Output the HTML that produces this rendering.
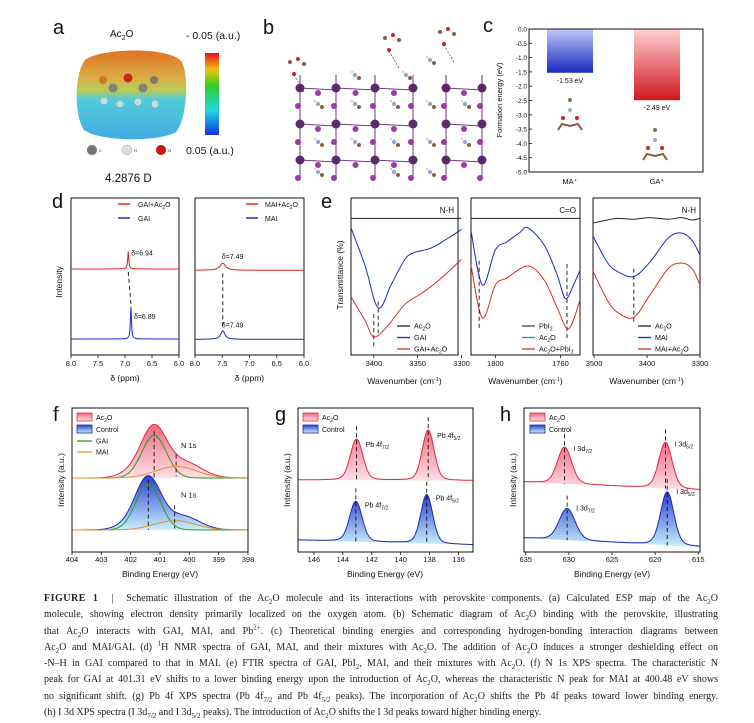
<!DOCTYPE html>
<html><head><meta charset="utf-8"><style>
body{margin:0;background:#fff;width:754px;height:723px;overflow:hidden;position:relative;font-family:"Liberation Sans",sans-serif}
svg{position:absolute;left:0;top:0}
#cap{position:absolute;left:44px;top:591px;width:674px;font-family:"Liberation Serif",serif;font-size:10px;color:#222;line-height:16.3px}
#cap div{text-align:justify;text-align-last:justify;white-space:nowrap;height:16.3px}
#cap div.last{text-align-last:left}
#cap b{font-weight:bold;letter-spacing:0.5px}
#cap sub,#cap sup{line-height:0;font-size:7px}
</style></head><body>
<svg id="fig" width="754" height="723" viewBox="0 0 754 723">
<defs>
<linearGradient id="esp" x1="0" y1="0" x2="0" y2="1"><stop offset="0" stop-color="#e06a18"/><stop offset="0.3" stop-color="#d8a83a"/><stop offset="0.45" stop-color="#b8c850"/><stop offset="0.55" stop-color="#48c8d8"/><stop offset="1" stop-color="#3aa8e0"/></linearGradient>
<linearGradient id="rainbow" x1="0" y1="0" x2="0" y2="1"><stop offset="0" stop-color="#e8101a"/><stop offset="0.2" stop-color="#f0c010"/><stop offset="0.4" stop-color="#30d020"/><stop offset="0.7" stop-color="#20d8e0"/><stop offset="1" stop-color="#1030e8"/></linearGradient>
<linearGradient id="gBlueBar" x1="0" y1="0" x2="0" y2="1"><stop offset="0" stop-color="#c0c8f8"/><stop offset="1" stop-color="#1828c0"/></linearGradient>
<linearGradient id="gRedBar" x1="0" y1="0" x2="0" y2="1"><stop offset="0" stop-color="#ffd0d0"/><stop offset="1" stop-color="#d01820"/></linearGradient>
<linearGradient id="fillRed" x1="0" y1="0" x2="0" y2="1"><stop offset="0" stop-color="#ee6a80"/><stop offset="1" stop-color="#fde0e6"/></linearGradient>
<linearGradient id="fillBlue" x1="0" y1="0" x2="0" y2="1"><stop offset="0" stop-color="#2a40d0"/><stop offset="1" stop-color="#c8f0fc"/></linearGradient>
</defs>
<g id="root" font-family="Liberation Sans, sans-serif"></g>
</svg>
<div id="cap">
<div><b>FIGURE 1</b> &nbsp;| &nbsp;Schematic illustration of the Ac<sub>2</sub>O molecule and its interactions with perovskite components. (a) Calculated ESP map of the Ac<sub>2</sub>O</div>
<div>molecule, showing electron density primarily localized on the oxygen atom. (b) Schematic diagram of Ac<sub>2</sub>O binding with the perovskite, illustrating</div>
<div>that Ac<sub>2</sub>O interacts with GAI, MAI, and Pb<sup>2+</sup>. (c) Theoretical binding energies and corresponding hydrogen-bonding interaction diagrams between</div>
<div>Ac<sub>2</sub>O and MAI/GAI. (d) <sup>1</sup>H NMR spectra of GAI, MAI, and their mixtures with Ac<sub>2</sub>O. The addition of Ac<sub>2</sub>O induces a stronger deshielding effect on</div>
<div>-N–H in GAI compared to that in MAI. (e) FTIR spectra of GAI, PbI<sub>2</sub>, MAI, and their mixtures with Ac<sub>2</sub>O. (f) N 1s XPS spectra. The characteristic N</div>
<div>peak for GAI at 401.31 eV shifts to a lower binding energy upon the introduction of Ac<sub>2</sub>O, whereas the characteristic N peak for MAI at 400.48 eV shows</div>
<div>no significant shift. (g) Pb 4f XPS spectra (Pb 4f<sub>7/2</sub> and Pb 4f<sub>5/2</sub> peaks). The incorporation of Ac<sub>2</sub>O shifts the Pb 4f peaks toward lower binding energy.</div>
<div class="last">(h) I 3d XPS spectra (I 3d<sub>7/2</sub> and I 3d<sub>5/2</sub> peaks). The introduction of Ac<sub>2</sub>O shifts the I 3d peaks toward higher binding energy.</div>
</div>
<script>
// ===== data =====
const cCategories=["MA⁺","GA⁺"];
const cValues=[-1.53,-2.49];
const cTicks=[0,-0.5,-1,-1.5,-2,-2.5,-3,-3.5,-4,-4.5,-5];
const dTicks=[8.0,7.5,7.0,6.5,6.0];
const dLeftRed={base:5.48,pos:6.94,h:1.1,w:0.012};
const dLeftBlue={base:1.02,pos:6.89,h:2.05,w:0.012};
const dRightRed={base:5.4,pos:7.49,h:0.45,w:0.06};
const dRightBlue={base:1.0,pos:7.49,h:0.55,w:0.045};
const e1Wn=[3426,3410,3395,3380,3365,3355,3335,3315,3300];
const e1Blue=[81,57,30,45,60.5,65,68,74.5,80];
const e1RedWn=[3426,3410,3400,3385,3365,3345,3325,3300];
const e1Red=[37,22,11.5,18,32,39.5,48,61];
const e2Wn=[1815,1808,1800,1793,1785,1780,1770,1762,1757,1752,1748];
const e2Blue=[79,44.6,67,72,78,81,70,51,36,44.6,54];
const e2RedWn=[1815,1808,1800,1793,1780,1770,1762,1755,1748];
const e2Red=[57,23.6,44.6,49,56.7,47.8,30,16.6,35];
const e3Wn=[3503,3475,3455,3425,3395,3360,3335,3315,3300];
const e3Blue=[76.4,59,53,50,59,74.5,77.7,73,63.7];
const e3Red=[54,35,27,24,38,55,58.6,55,44.6];
const e3Black=[84,86,87,86.5,87.5,86.5,87.5,86,87];
const fTicks=[404,403,402,401,400,399,398];
const fRedGAI={pos:401.2,h:2.95,s:0.42}, fRedMAI={pos:400.45,h:0.8,s:0.7};
const fRedExtra=[[401.75,0.55,0.5],[400.0,0.4,0.5]];
const fBlueGAI={pos:401.4,h:3.2,s:0.42}, fBlueMAI={pos:400.5,h:0.65,s:0.7};
const fBlueExtra=[[401.9,0.45,0.5],[400.1,0.4,0.5]];
const fBase=[5.14,1.53];
const gTicks=[146,144,142,140,138,136];
const gRedPeaks=[[143.05,2.85,0.42],[138.1,3.5,0.4]];
const gBluePeaks=[[143.1,2.8,0.42],[138.2,3.4,0.4]];
const gRedBase=[5.0,4.95], gBlueBase=[0.83,0.49];
const hTicks=[635,630,625,620,615];
const hRedPeaks=[[630.5,2.55,0.8],[618.8,3.2,0.75]];
const hBluePeaks=[[630.2,2.2,0.9],[618.6,3.7,0.75]];
const hRedBase=[4.86,4.3], hBlueBase=[0.97,0.35];

// ===== helpers =====
const NS="http://www.w3.org/2000/svg";
const root=document.getElementById('root');
function el(tag,attrs,parent,text){const e=document.createElementNS(NS,tag);for(const k in attrs)e.setAttribute(k,attrs[k]);if(text!==undefined)e.textContent=text;(parent||root).appendChild(e);return e;}
function lin(d0,d1,r0,r1){return v=>r0+(v-d0)*(r1-r0)/(d1-d0);}
function txt(x,y,s,size,anchor,name,parent,extra){const t=el('text',Object.assign({x:x,y:y,'font-size':size,'text-anchor':anchor||'start',fill:'#111'},extra||{}),parent);t.innerHTML=s;return t;}
function smooth(pts){let d='M'+pts[0][0].toFixed(1)+','+pts[0][1].toFixed(1);for(let i=0;i<pts.length-1;i++){const p0=pts[i-1]||pts[i],p1=pts[i],p2=pts[i+1],p3=pts[i+2]||p2;const c1=[p1[0]+(p2[0]-p0[0])/6,p1[1]+(p2[1]-p0[1])/6],c2=[p2[0]-(p3[0]-p1[0])/6,p2[1]-(p3[1]-p1[1])/6];d+='C'+c1.map(v=>v.toFixed(1))+' '+c2.map(v=>v.toFixed(1))+' '+p2[0].toFixed(1)+','+p2[1].toFixed(1);}return d;}
function gauss(x,p,h,s){return h*Math.exp(-(x-p)*(x-p)/(2*s*s));}
function lor(x,p,h,w){return h*w*w/((x-p)*(x-p)+w*w);}
function frame(x0,y0,x1,y1,name){const r=el('rect',{x:x0,y:y0,width:x1-x0,height:y1-y0,fill:'none',stroke:'#111','stroke-width':1});return r;}
function xticks(vals,sx,y,labelY,name,fmt){vals.forEach(v=>{const x=sx(v);el('line',{x1:x,y1:y,x2:x,y2:y+3,stroke:'#111','stroke-width':0.8});txt(x,labelY,fmt?fmt(v):String(v),7.5,'middle',name+'-tick-label');});}
function vlabel(x,y,s,name,size){return txt(x,y,s,size||8.5,'middle',name,root,{transform:'rotate(-90 '+x+' '+y+')'});}

// ===== panel a =====
txt(53,34,'a',20,'start','panel-label-a');
txt(110,37,'Ac<tspan font-size="7" dy="3">2</tspan><tspan dy="-3">O</tspan>',10,'start','molecule-title');
txt(186,39,'- 0.05 (a.u.)',10.5,'start','esp-max-label');
const blob=el('path',{d:'M85,60 C100,48 170,46 182,62 C190,80 186,120 176,132 C160,142 100,142 84,130 C74,115 74,75 85,60 Z',fill:'url(#esp)',opacity:0.95});

[[103,80,'#c87028',4],[128,78,'#c01010',4.5],[154,80,'#707070',4],[113,88,'#777',4.5],[143,88,'#777',4.5],[104,101,'#ddd',3.5],[120,104,'#ddd',3.5],[138,102,'#ddd',3.5],[155,104,'#ddd',3.5]].forEach(a=>el('circle',{cx:a[0],cy:a[1],r:a[3],fill:a[2],opacity:0.85}));
const cb=el('rect',{x:205,y:53,width:14,height:82,fill:'url(#rainbow)'});
[[92,'#777','C'],[127,'#ddd','H'],[161,'#d01010','O']].forEach(a=>{el('circle',{cx:a[0],cy:150,r:5,fill:a[1],stroke:'#999','stroke-width':0.4});txt(a[0]+7,152,a[2],4,'start','atom-key-'+a[2]);});
txt(186,154,'0.05 (a.u.)',10.5,'start','esp-min-label');
txt(105,182,'4.2876 D',11.5,'start','dipole-moment');

// ===== panel b =====
txt(263,34,'b',20,'start','panel-label-b');
const gb=el('g',{});
const colsX=[300,336,375,413,446,482];const rowsY=[88,124,160];
rowsY.forEach(y=>{for(let i=0;i<colsX.length-1;i++){if(i===3)continue;el('line',{x1:colsX[i],y1:y,x2:colsX[i+1],y2:y+2,stroke:'#6a3a7a','stroke-width':1},gb);el('circle',{cx:(colsX[i]+colsX[i+1])/2,cy:y+5,r:3,fill:'#9a3aa8'},gb);}});
colsX.forEach(x=>{el('line',{x1:x,y1:75,x2:x,y2:178,stroke:'#6a3a7a','stroke-width':1},gb);rowsY.forEach(y=>{el('circle',{cx:x,cy:y,r:4.5,fill:'#5a2a6a'},gb);el('circle',{cx:x-2,cy:y+18,r:3,fill:'#9a3aa8'},gb);});});
[[318,104],[355,104],[394,104],[430,104],[465,104],[318,142],[355,142],[394,142],[430,142],[465,142],[318,172],[394,172],[430,172],[355,75],[406,75],[430,60]].forEach(p=>{el('circle',{cx:p[0],cy:p[1],r:2.2,fill:'#9aa8c8'},gb);el('circle',{cx:p[0]+4,cy:p[1]+3,r:2,fill:'#8a6040'},gb);el('circle',{cx:p[0]-3,cy:p[1]-3,r:1.2,fill:'#e8c8c0'},gb);});
[[290,62],[385,38],[440,32]].forEach(p=>{el('circle',{cx:p[0],cy:p[1],r:2,fill:'#8a5a3a'},gb);el('circle',{cx:p[0]+8,cy:p[1]-3,r:2,fill:'#d02020'},gb);el('circle',{cx:p[0]+14,cy:p[1]+2,r:2,fill:'#8a5a3a'},gb);el('circle',{cx:p[0]+4,cy:p[1]+12,r:2,fill:'#d02020'},gb);el('line',{x1:p[0]+4,y1:p[1]+13,x2:p[0]+14,y2:p[1]+30,stroke:'#333','stroke-width':0.6,'stroke-dasharray':'2,1.5'},gb);});

// ===== panel c =====
txt(483,32,'c',20,'start','panel-label-c');
const cx0=529,cx1=703,cy0=29,cy1=172;
const cy=lin(0,-5,cy0,cy1);
const cxs=[570,657];
cValues.forEach((v,i)=>{const r=el('rect',{x:cxs[i]-23,y:cy(0),width:46,height:cy(v)-cy(0),fill:i?'url(#gRedBar)':'url(#gBlueBar)'});
txt(cxs[i],cy(v)+10,v.toFixed(2)+' eV',7,'middle','bar-value-'+(i?'ga':'ma'));
txt(cxs[i],184,cCategories[i],7.5,'middle','category-label-'+(i?'ga':'ma'));});
frame(cx0,cy0,cx1,cy1,'chart-c-frame');
cTicks.forEach(v=>{el('line',{x1:cx0,y1:cy(v),x2:cx0+3,y2:cy(v),stroke:'#111','stroke-width':0.8});txt(cx0-2,cy(v)+2.5,v.toFixed(1),6.5,'end','y-tick-label');});
vlabel(502,100,'Formation energy (eV)','y-axis-title-c',7.5);
[[570,100],[655,130]].forEach((p,k)=>{const g=el('g',{});
el('circle',{cx:p[0],cy:p[1],r:2,fill:'#8a6a50'},g);el('circle',{cx:p[0],cy:p[1]+10,r:2,fill:'#a0a8d0'},g);el('circle',{cx:p[0]-7,cy:p[1]+18,r:2,fill:'#d02020'},g);el('circle',{cx:p[0]+7,cy:p[1]+18,r:2,fill:'#d02020'},g);
el('polyline',{points:[p[0]-12,p[1]+30,p[0]-8,p[1]+24,p[0],p[1]+26,p[0]+8,p[1]+24,p[0]+12,p[1]+30].join(' '),fill:'none',stroke:'#8a5a3a','stroke-width':2},g);});

// ===== panel d =====
txt(52,208,'d',20,'start','panel-label-d');
const dy=lin(0,10,355,198);
function nmr(x0,x1,peaks,name){const sx=lin(8,6,x0,x1);frame(x0,198,x1,355,name+'-frame');
peaks.forEach((p,k)=>{const pts=[];for(let i=0;i<=400;i++){const v=8-2*i/400;pts.push(sx(v).toFixed(1)+','+dy(p.base+lor(v,p.pos,p.h,p.w)).toFixed(1));}
const l=el('polyline',{points:pts.join(' '),fill:'none',stroke:k?'#1a2ad0':'#e02020','stroke-width':1});});
el('line',{x1:sx(peaks[0].pos),y1:dy(peaks[0].base)+3,x2:sx(peaks[1].pos),y2:dy(peaks[1].base+peaks[1].h)-3,stroke:'#111','stroke-width':0.9,'stroke-dasharray':'4,3'});
xticks(dTicks,sx,355,366,name,v=>v.toFixed(1));
txt((x0+x1)/2,381,'δ (ppm)',8.5,'middle',name+'-x-axis-title');return sx;}
const sdl=nmr(71,179,[dLeftRed,dLeftBlue],'nmr-gai');
const sdr=nmr(195,304,[dRightRed,dRightBlue],'nmr-mai');
txt(sdl(dLeftRed.pos)+3,dy(dLeftRed.base+dLeftRed.h)+4,'δ='+dLeftRed.pos.toFixed(2),7,'start','peak-label');
txt(sdl(dLeftBlue.pos)+3,dy(dLeftBlue.base+dLeftBlue.h)+12,'δ='+dLeftBlue.pos.toFixed(2),7,'start','peak-label');
txt(sdr(dRightRed.pos)-1,dy(dRightRed.base+dRightRed.h)-4,'δ='+dRightRed.pos.toFixed(2),7,'start','peak-label');
txt(sdr(dRightBlue.pos)-1,dy(dRightBlue.base+dRightBlue.h)-3,'δ='+dRightBlue.pos.toFixed(2),7,'start','peak-label');
vlabel(62,282,'Intensity','y-axis-title-d');
[[118,138,'GAI+Ac<tspan font-size="5" dy="2">2</tspan><tspan dy="-2">O</tspan>','GAI'],[246,265,'MAI+Ac<tspan font-size="5" dy="2">2</tspan><tspan dy="-2">O</tspan>','MAI']].forEach(L=>{
el('line',{x1:L[0],y1:204,x2:L[0]+12,y2:204,stroke:'#e02020','stroke-width':1.5});txt(L[1],207,L[2],7,'start','legend-entry');
el('line',{x1:L[0],y1:218,x2:L[0]+12,y2:218,stroke:'#1a2ad0','stroke-width':1.5});txt(L[1],221,L[3],7,'start','legend-entry');});

// ===== panel e =====
txt(321,208,'e',20,'start','panel-label-e');
const ey=lin(0,100,355,198);
vlabel(343,275,'Transmittance (%)','y-axis-title-e');
function ftir(x0,x1,w0,w1,ticks,title,series,legend,lx,name){const sx=lin(w0,w1,x0,x1);frame(x0,198,x1,355,name+'-frame');
series.forEach(s=>{const p=el('path',{d:smooth(s.wn.map((w,i)=>[sx(w),ey(s.v[i])])),fill:'none',stroke:s.c,'stroke-width':1});});
xticks(ticks,sx,355,366,name);
txt((x0+x1)/2,384,'Wavenumber (cm<tspan font-size="5.5" dy="-3">-1</tspan><tspan dy="3">)</tspan>',8.5,'middle',name+'-x-axis-title');
txt(x1-4,213,title,8,'end',name+'-title');
legend.forEach((L,i)=>{const y=326+i*11.5;el('line',{x1:lx,y1:y,x2:lx+13,y2:y,stroke:L[1],'stroke-width':1.3});txt(lx+17,y+2.5,L[0],7.2,'start','legend-entry');});return sx;}
const A='Ac<tspan font-size="5" dy="2">2</tspan><tspan dy="-2">O</tspan>';
const e1=ftir(351,458,3426,3304,[3400,3350,3300],'N-H',[
 {wn:[3426,3300],v:[87,87],c:'#222',n:'ac2o'},{wn:e1Wn,v:e1Blue,c:'#1a2ad0',n:'gai'},{wn:e1RedWn,v:e1Red,c:'#e02a2a',n:'gai-ac2o'}],
 [[A,'#222'],['GAI','#1a2ad0'],['GAI+'+A,'#e02a2a']],397,'ftir-gai');
const e2=ftir(471,580,1815,1748,[1800,1760],'C=O',[
 {wn:[1815,1748],v:[87,87],c:'#222',n:'pbi2'},{wn:e2Wn,v:e2Blue,c:'#1a2ad0',n:'ac2o'},{wn:e2RedWn,v:e2Red,c:'#e02a2a',n:'ac2o-pbi2'}],
 [['PbI<tspan font-size="5" dy="2">2</tspan>','#444'],[A,'#6070d8'],[A+'+PbI<tspan font-size="5" dy="2">2</tspan>','#e02a2a']],522,'ftir-pbi2');
const e3=ftir(593,700,3502,3300,[3500,3400,3300],'N-H',[
 {wn:e3Wn,v:e3Black,c:'#222',n:'ac2o'},{wn:e3Wn,v:e3Blue,c:'#1a2ad0',n:'mai'},{wn:e3Wn,v:e3Red,c:'#e02a2a',n:'mai-ac2o'}],
 [[A,'#222'],['MAI','#1a2ad0'],['MAI+'+A,'#e02a2a']],638,'ftir-mai');
function dash(x,y0,y1){el('line',{x1:x,y1:y0,x2:x,y2:y1,stroke:'#111','stroke-width':0.9,'stroke-dasharray':'4,3'});}
dash(e1(3400),ey(26),ey(5));dash(e1(3395),ey(34),ey(14));
dash(e2(1810),ey(60),ey(16));dash(e2(1756),ey(58),ey(10));
dash(e3(3425),ey(55),ey(20));

// ===== XPS panels =====
const xy=lin(0,10,552,408);
function drawSpec(sx,b0,b1,fn,base,fill,stroke,name){const pts=[];const N=300;for(let i=0;i<=N;i++){const b=b0+(b1-b0)*i/N;pts.push([sx(b),xy(fn(b))]);}
const bl=pts.map((p,i)=>[p[0],xy(base(b0+(b1-b0)*i/N))]);
const f=el('path',{d:'M'+pts.map(p=>p[0].toFixed(1)+','+p[1].toFixed(1)).join('L')+'L'+bl.reverse().map(p=>p[0].toFixed(1)+','+p[1].toFixed(1)).join('L')+'Z',fill:fill,stroke:'none'});
const l=el('polyline',{points:pts.map(p=>p[0].toFixed(1)+','+p[1].toFixed(1)).join(' '),fill:'none',stroke:stroke,'stroke-width':1});}
function xlegend(x,y,labels){labels.forEach((L,i)=>{const yy=y+i*12;el('rect',{x:x,y:yy-4,width:15,height:8,fill:i?'url(#fillBlue)':'url(#fillRed)',stroke:i?'#1a2ab0':'#e03040','stroke-width':0.8});txt(x+19,yy+3,L,7,'start','legend-entry');});}
function baseFn(arr,b0,b1){return b=>arr[0]+(arr[1]-arr[0])*(b-b0)/(b1-b0);}
// f
txt(53,421,'f',20,'start','panel-label-f');
const sf=lin(404,398,72,248);
[[fRedGAI,fRedMAI,fRedExtra,fBase[0],'url(#fillRed)','#e02a3a','n1s-ac2o'],[fBlueGAI,fBlueMAI,fBlueExtra,fBase[1],'url(#fillBlue)','#1a2ab0','n1s-control']].forEach(S=>{
 const env=b=>S[3]+gauss(b,S[0].pos,S[0].h,S[0].s)+gauss(b,S[1].pos,S[1].h,S[1].s)+S[2].reduce((a,e)=>a+gauss(b,e[0],e[1],e[2]),0);
 drawSpec(sf,404,398,env,b=>S[3],S[4],S[5],S[6]);
 const g=[],o=[];for(let i=0;i<=200;i++){const b=404-6*i/200;g.push(sf(b).toFixed(1)+','+xy(S[3]+gauss(b,S[0].pos,S[0].h,S[0].s)).toFixed(1));o.push(sf(b).toFixed(1)+','+xy(S[3]+gauss(b,S[1].pos,S[1].h,S[1].s)).toFixed(1));}
 const gl=el('polyline',{points:g.join(' '),fill:'none',stroke:'#2a9a2a','stroke-width':1});
 const ol=el('polyline',{points:o.join(' '),fill:'none',stroke:'#e89030','stroke-width':1});
 dash(sf(S[0].pos),xy(S[3]+S[0].h+0.3),xy(S[3]));dash(sf(S[1].pos),xy(S[3]+S[0].h*0.35+0.6),xy(S[3]+0.1));
 txt(181,xy(S[3]+S[0].h*0.7),'N 1s',7.5,'start','peak-label');});
frame(72,408,248,552,'xps-n1s-frame');
xticks(fTicks,sf,552,562,'xps-n1s');
txt(160,577,'Binding Energy (eV)',8.5,'middle','x-axis-title-f');
vlabel(64,480,'Intensity (a.u.)','y-axis-title-f');
xlegend(77,417,[A,'Control']);
el('line',{x1:77,y1:441,x2:92,y2:441,stroke:'#2a9a2a','stroke-width':1.3});txt(96,443.5,'GAI',7,'start','legend-entry');
el('line',{x1:77,y1:452,x2:92,y2:452,stroke:'#e89030','stroke-width':1.3});txt(96,454.5,'MAI',7,'start','legend-entry');
// g
function twoPeak(sx,b0,b1,peaks,base,fill,stroke,name,lblFn){const bf=baseFn(base,b0,b1);const fn=b=>bf(b)+peaks.reduce((a,p)=>a+gauss(b,p[0],p[1]*0.85,p[2])+lor(b,p[0],p[1]*0.15,p[2]*1.6),0);
 drawSpec(sx,b0,b1,fn,bf,fill,stroke,name);peaks.forEach((p,i)=>{dash(sx(p[0]),xy(bf(p[0])+p[1]+0.9),xy(bf(p[0])));lblFn(sx(p[0]),xy(bf(p[0])+p[1]),i);});}
txt(275,421,'g',20,'start','panel-label-g');
const sg=lin(147.1,135,298,473);
const pbL=['Pb 4f<tspan font-size="5" dy="2">7/2</tspan>','Pb 4f<tspan font-size="5" dy="2">5/2</tspan>'];
twoPeak(sg,147.1,135,gRedPeaks,gRedBase,'url(#fillRed)','#e02a3a','pb4f-ac2o',(x,y,i)=>txt(x+9,y+8,pbL[i],7,'start','peak-label'));
twoPeak(sg,147.1,135,gBluePeaks,gBlueBase,'url(#fillBlue)','#1a2ab0','pb4f-control',(x,y,i)=>txt(x+9,y+6,pbL[i],7,'start','peak-label'));
frame(298,408,473,552,'xps-pb4f-frame');
xticks(gTicks,sg,552,562,'xps-pb4f');
txt(385,577,'Binding Energy (eV)',8.5,'middle','x-axis-title-g');
vlabel(290,480,'Intensity (a.u.)','y-axis-title-g');
xlegend(303,417,[A,'Control']);
// h
txt(500,421,'h',20,'start','panel-label-h');
const sh=lin(635.2,614.8,524,700);
const iL=['I 3d<tspan font-size="5" dy="2">7/2</tspan>','I 3d<tspan font-size="5" dy="2">5/2</tspan>'];
twoPeak(sh,635.2,614.8,hRedPeaks,hRedBase,'url(#fillRed)','#e02a3a','i3d-ac2o',(x,y,i)=>txt(x+9,y+4,iL[i],7,'start','peak-label'));
twoPeak(sh,635.2,614.8,hBluePeaks,hBlueBase,'url(#fillBlue)','#1a2ab0','i3d-control',(x,y,i)=>txt(x+9,y+2,iL[i],7,'start','peak-label'));
frame(524,408,700,552,'xps-i3d-frame');
xticks(hTicks,sh,552,562,'xps-i3d');
txt(612,577,'Binding Energy (eV)',8.5,'middle','x-axis-title-h');
vlabel(516,480,'Intensity (a.u.)','y-axis-title-h');
xlegend(530,417,[A,'Control']);
</script>
</body></html>
